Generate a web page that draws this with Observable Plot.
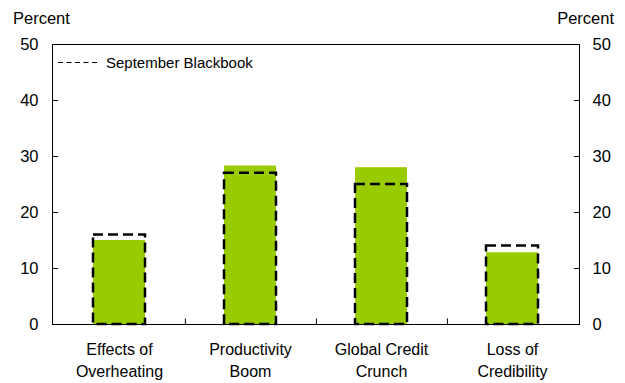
<!DOCTYPE html>
<html>
<head>
<meta charset="utf-8">
<script src="https://cdn.jsdelivr.net/npm/d3@7"></script>
<script src="https://cdn.jsdelivr.net/npm/@observablehq/plot@0.6"></script>
<style>
  html, body { margin: 0; padding: 0; background: white; }
</style>
</head>
<body>
<div id="chart"></div>
<script>
const categories = ["Effects of\nOverheating", "Productivity\nBoom", "Global Credit\nCrunch", "Loss of\nCredibility"];
const current = [15, 28.3, 28, 12.8];
const blackbook = [16, 27, 25, 14];
const yTicks = [0, 10, 20, 30, 40, 50];
const legendLabel = "September Blackbook";
const axisTitle = "Percent";

const data = categories.map((c, i) => ({category: c, current: current[i], blackbook: blackbook[i]}));

const W = 625, H = 383, ML = 52, MR = 46, MT = 44, MB = 59;
const step = (W - ML - MR) / categories.length;
const font = "'Liberation Sans', Arial, sans-serif";

const chart = Plot.plot({
  width: W, height: H,
  marginLeft: ML, marginRight: MR, marginTop: MT, marginBottom: MB,
  style: {fontFamily: font, fontSize: "16px", color: "black", background: "white"},
  x: {domain: categories, paddingInner: 0.6, paddingOuter: 0.3},
  y: {domain: [0, 50]},
  marks: [
    Plot.barY(data, {x: "category", y: "current", fill: "#99cc00"}),
    Plot.frame({stroke: "black", strokeWidth: 1}),
    Plot.barY(data, {x: "category", y: "blackbook", fill: "none", stroke: "black", strokeWidth: 2.5, strokeDasharray: "10,5"}),
    Plot.ruleX(categories.slice(0, -1), {x: d => d, dx: step / 2, y1: 0, y2: 1, stroke: "black"}),
    Plot.axisY(yTicks, {anchor: "left", tickSize: -6, tickPadding: 20, label: null, fontSize: 16.5}),
    Plot.axisY(yTicks, {anchor: "right", tickSize: -6, tickPadding: 19, label: null, fontSize: 16.5}),
    Plot.axisX({tickSize: 0, tickPadding: 16, label: null, lineHeight: 1.32, fontSize: 16})
  ]
});

document.getElementById("chart").appendChild(chart);

const svg = d3.select(chart);
svg.append("text").attr("x", 13).attr("y", 24).attr("text-anchor", "start").attr("font-family", font).attr("font-size", 16.5).attr("fill", "black").text(axisTitle);
svg.append("text").attr("x", 614).attr("y", 24).attr("text-anchor", "end").attr("font-family", font).attr("font-size", 16.5).attr("fill", "black").text(axisTitle);
svg.append("line").attr("x1", 58).attr("x2", 97).attr("y1", 62.5).attr("y2", 62.5).attr("stroke", "black").attr("stroke-width", 1.2).attr("stroke-dasharray", "5,3.5");
svg.append("text").attr("x", 106).attr("y", 68).attr("text-anchor", "start").attr("font-family", font).attr("font-size", 15).attr("fill", "black").text(legendLabel);
</script>
</body>
</html>
